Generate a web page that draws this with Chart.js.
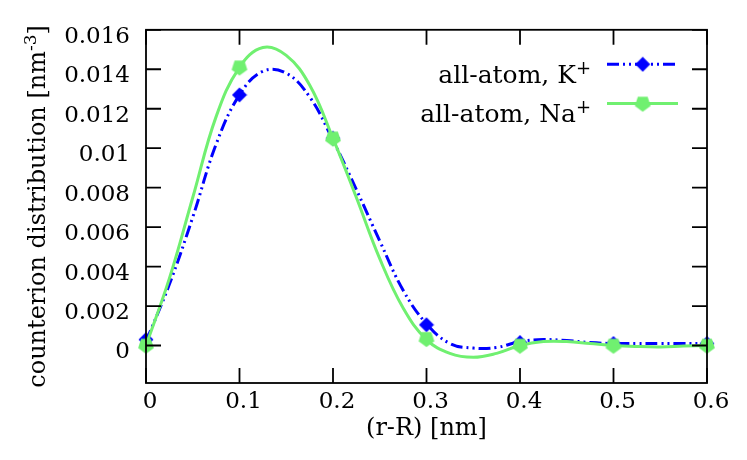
<!DOCTYPE html>
<html lang="en">
<head>
<meta charset="UTF-8" />
<title>Counterion distribution</title>
<style>
  html, body { margin: 0; padding: 0; background: #fff; }
  #chart { display: block; }
</style>
</head>
<body>
<canvas id="chart" width="747" height="460"></canvas>
<script src="https://cdn.jsdelivr.net/npm/chart.js"></script>
<script>
// measured points
const xPoints = [0, 0.1, 0.2, 0.3, 0.4, 0.5, 0.6];
const kPoints = [0.0003, 0.0127, 0.0105, 0.00105, 0.00015, 0.0001, 0.0001];
const naPoints = [0.0, 0.0141, 0.0105, 0.00034, 0.0, 0.0, 0.0];

// smooth curves
const xCurve = [0, 0.025, 0.05, 0.075, 0.1, 0.125, 0.15, 0.175, 0.2, 0.225, 0.25, 0.275,
  0.3, 0.325, 0.35, 0.375, 0.4, 0.425, 0.45, 0.475, 0.5, 0.525, 0.55, 0.575, 0.6];
const kCurve = [0.0002, 0.0031, 0.0065, 0.0102, 0.0127, 0.0139, 0.0138, 0.0126, 0.0104, 0.0079,
  0.0053, 0.0028, 0.0011, 0.0001, -0.00013, -0.0001, 0.0002, 0.0003, 0.00025, 0.00015,
  0.0001, 0.0001, 0.0001, 0.0001, 0.0001];
const naCurve = [0.0, 0.0034, 0.0075, 0.0116, 0.0141, 0.0151, 0.0147, 0.0132, 0.0105, 0.0075,
  0.0044, 0.0019, 0.0003, -0.0004, -0.0006, -0.0004, 0.0, 0.0002, 0.0002, 0.0001,
  0.0, -0.00005, -0.00007, -0.00003, 0.0];

const xTickValues = [0, 0.1, 0.2, 0.3, 0.4, 0.5, 0.6];
const xTickLabels = ['0', '0.1', '0.2', '0.3', '0.4', '0.5', '0.6'];
const yTickValues = [0, 0.002, 0.004, 0.006, 0.008, 0.01, 0.012, 0.014, 0.016];
const yTickLabels = ['0', '0.002', '0.004', '0.006', '0.008', '0.01', '0.012', '0.014', '0.016'];

const BLUE = '#0000ff';
const GREEN = '#70f070';
const FONT = '"DejaVu Serif", "Liberation Serif", serif';
const kDash = [12, 4, 2, 4, 2, 4];

function makeDiamond(color) {
  const c = document.createElement('canvas');
  c.width = 16; c.height = 16;
  const g = c.getContext('2d');
  g.fillStyle = color;
  g.beginPath();
  g.moveTo(8, 0.5); g.lineTo(15.5, 8); g.lineTo(8, 15.5); g.lineTo(0.5, 8);
  g.closePath();
  g.fill();
  return c;
}

function makePentagon(color) {
  const c = document.createElement('canvas');
  c.width = 20; c.height = 20;
  const g = c.getContext('2d');
  const r = 8.3;
  g.fillStyle = color;
  g.beginPath();
  for (let k = 0; k < 5; k++) {
    const a = Math.PI / 2 + k * 2 * Math.PI / 5;
    const px = 10 + r * Math.cos(a), py = 10 + r * Math.sin(a);
    if (k === 0) g.moveTo(px, py); else g.lineTo(px, py);
  }
  g.closePath();
  g.fill();
  return c;
}

const diamond = makeDiamond(BLUE);
const pentagon = makePentagon(GREEN);

function pairs(xs, ys) {
  return xs.map((x, i) => ({ x: x, y: ys[i] }));
}

function legendRow(ctx, label, sup, yText, yLine, color, dash, marker) {
  const right = 591;
  ctx.fillStyle = '#000';
  ctx.textAlign = 'right';
  ctx.textBaseline = 'alphabetic';
  ctx.font = '18px ' + FONT;
  const sw = ctx.measureText(sup).width;
  ctx.fillText(sup, right, yText - 9);
  ctx.font = '25px ' + FONT;
  ctx.fillText(label, right - sw, yText);

  ctx.strokeStyle = color;
  ctx.lineWidth = 3;
  ctx.setLineDash(dash);
  ctx.beginPath();
  ctx.moveTo(607, yLine);
  ctx.lineTo(678, yLine);
  ctx.stroke();
  ctx.setLineDash([]);
  ctx.drawImage(marker, 642.7 - marker.width / 2, yLine - marker.height / 2);
}

// y title drawn by hand so that the exponent is a real superscript
function yTitle(ctx, cx, cy) {
  const parts = [
    { t: 'counterion distribution [nm', f: '24px ' + FONT, dy: 0 },
    { t: '-3', f: '17px ' + FONT, dy: -9 },
    { t: ']', f: '24px ' + FONT, dy: 0 }
  ];
  let total = 0;
  parts.forEach(p => { ctx.font = p.f; p.w = ctx.measureText(p.t).width; total += p.w; });
  ctx.save();
  ctx.translate(cx, cy);
  ctx.rotate(-Math.PI / 2);
  ctx.fillStyle = '#000';
  ctx.textAlign = 'left';
  ctx.textBaseline = 'alphabetic';
  let x = -total / 2;
  parts.forEach(p => { ctx.font = p.f; ctx.fillText(p.t, x, p.dy); x += p.w; });
  ctx.restore();
}

const framePlugin = {
  id: 'frame',
  afterDatasetsDraw(chart) {
    const { ctx, chartArea: a, scales: { x, y } } = chart;
    ctx.save();
    ctx.strokeStyle = '#000';
    ctx.lineWidth = 1.8;
    ctx.strokeRect(a.left, a.top, a.right - a.left, a.bottom - a.top);
    ctx.beginPath();
    xTickValues.forEach(v => {
      const px = x.getPixelForValue(v);
      ctx.moveTo(px, a.bottom); ctx.lineTo(px, a.bottom - 15);
      ctx.moveTo(px, a.top); ctx.lineTo(px, a.top + 15);
    });
    yTickValues.forEach(v => {
      const py = y.getPixelForValue(v);
      ctx.moveTo(a.left, py); ctx.lineTo(a.left + 15, py);
      ctx.moveTo(a.right, py); ctx.lineTo(a.right - 15, py);
    });
    ctx.stroke();

    yTitle(ctx, 45, (a.top + a.bottom) / 2);
    legendRow(ctx, 'all-atom, K', '+', 82.7, 64.3, BLUE, kDash, diamond);
    legendRow(ctx, 'all-atom, Na', '+', 121.7, 103.5, GREEN, [], pentagon);
    ctx.restore();
  }
};

const tickFont = { family: FONT, size: 23 };

new Chart(document.getElementById('chart'), {
  type: 'scatter',
  data: {
    datasets: [
      {
        label: 'all-atom, K+ fit',
        data: pairs(xCurve, kCurve),
        showLine: true,
        borderColor: BLUE,
        borderWidth: 3,
        borderDash: kDash,
        pointRadius: 0,
        tension: 0.4,
        clip: false,
        order: 4
      },
      {
        label: 'all-atom, K+',
        data: pairs(xPoints, kPoints),
        showLine: false,
        pointStyle: diamond,
        clip: false,
        order: 3
      },
      {
        label: 'all-atom, Na+ fit',
        data: pairs(xCurve, naCurve),
        showLine: true,
        borderColor: GREEN,
        borderWidth: 3,
        pointRadius: 0,
        tension: 0.4,
        clip: false,
        order: 2
      },
      {
        label: 'all-atom, Na+',
        data: pairs(xPoints, naPoints),
        showLine: false,
        pointStyle: pentagon,
        clip: false,
        order: 1
      }
    ]
  },
  options: {
    responsive: false,
    animation: false,
    events: [],
    layout: { padding: { top: 29, right: 40, left: 0, bottom: 0 } },
    plugins: { legend: { display: false }, tooltip: { enabled: false } },
    scales: {
      x: {
        type: 'linear',
        min: 0,
        max: 0.6,
        afterBuildTicks: s => { s.ticks = xTickValues.map(v => ({ value: v })); },
        afterFit: s => { s.height = 77; },
        grid: { display: false, drawTicks: false },
        border: { display: false },
        ticks: {
          padding: 5,
          labelOffset: 4,
          color: '#000',
          font: tickFont,
          maxRotation: 0,
          autoSkip: false,
          callback: (v, i) => xTickLabels[i]
        },
        title: {
          display: true,
          text: '(r-R) [nm]',
          color: '#000',
          font: { family: FONT, size: 24 },
          padding: { top: 0, bottom: 17 }
        }
      },
      y: {
        type: 'linear',
        min: -0.0019,
        max: 0.016,
        afterBuildTicks: s => { s.ticks = yTickValues.map(v => ({ value: v })); },
        afterFit: s => { s.width = 146; },
        grid: { display: false, drawTicks: false },
        border: { display: false },
        ticks: {
          padding: 16,
          labelOffset: 7,
          color: '#000',
          font: tickFont,
          autoSkip: false,
          callback: (v, i) => yTickLabels[i]
        }
      }
    }
  },
  plugins: [framePlugin]
});
</script>
</body>
</html>
